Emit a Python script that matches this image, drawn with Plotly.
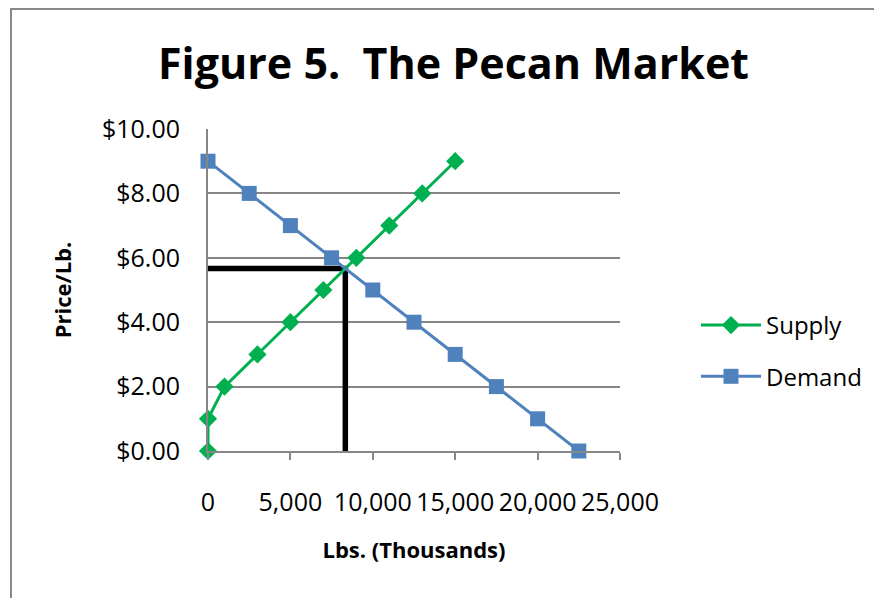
import plotly.graph_objects as go

supply_qty = [0, 0, 1000, 3000, 5000, 7000, 9000, 11000, 13000, 15000]
supply_price = [0, 1, 2, 3, 4, 5, 6, 7, 8, 9]
demand_qty = [0, 2500, 5000, 7500, 10000, 12500, 15000, 17500, 20000, 22500]
demand_price = [9, 8, 7, 6, 5, 4, 3, 2, 1, 0]
eq_qty = 8333
eq_price = 5.67

FONT = "Open Sans"
OFF = 8  # page body margin
W, H = 882 - OFF, 598 - OFF
L, R, T, B = 208 - OFF, 620 - OFF, 129 - OFF, 451 - OFF

fig = go.Figure()
fig.add_trace(go.Scatter(
    x=[0, eq_qty, eq_qty], y=[eq_price, eq_price, 0], mode="lines",
    line=dict(color="black", width=5.5), showlegend=False, hoverinfo="skip"))
fig.add_trace(go.Scatter(
    x=supply_qty, y=supply_price, name="Supply", mode="lines+markers",
    legendgroup="s",
    line=dict(color="#00B050", width=3),
    marker=dict(symbol="diamond", size=14, color="#00B050"), cliponaxis=False))
fig.add_trace(go.Scatter(
    x=demand_qty, y=demand_price, name="Demand", mode="lines+markers",
    legendgroup="d",
    line=dict(color="#4F81BD", width=3),
    marker=dict(symbol="square", size=15, color="#4F81BD"), cliponaxis=False))

pw, ph = R - L, B - T
def px(x): return (x - OFF - L) / pw
def py(y): return (B - (y - OFF)) / ph

fig.update_layout(
    width=W, height=H,
    margin=dict(l=L, r=W - R, t=T, b=H - B),
    paper_bgcolor="white", plot_bgcolor="white",
    font=dict(family=FONT, color="black", size=20),
    xaxis=dict(range=[0, 25000], dtick=5000, tickformat=",d",
               showgrid=False, zeroline=False, showline=True,
               linecolor="#868686", linewidth=2,
               ticks="outside", ticklen=7, tickcolor="#868686", tickwidth=2,
               ticklabelstandoff=21,
               tickfont=dict(size=25, family=FONT),
               title=dict(text="<b>Lbs. (Thousands)</b>", font=dict(size=22, family=FONT), standoff=26)),
    yaxis=dict(range=[0, 10], dtick=2, tickprefix="$", tickformat=".2f",
               showgrid=True, gridcolor="#868686", gridwidth=2,
               zeroline=False, showline=True, linecolor="#868686", linewidth=2,
               ticks="", ticklabelstandoff=21,
               tickfont=dict(size=25, family=FONT),
               title=dict(text="<b>Price/Lb.</b>", font=dict(size=22, family=FONT), standoff=24)),
    legend=dict(x=px(696), y=py(351), xanchor="left", yanchor="middle",
                font=dict(size=24, family=FONT), itemwidth=60, tracegroupgap=17,
                bgcolor="rgba(0,0,0,0)"),
    showlegend=True,
    annotations=[dict(text="<b>Figure 5.  The Pecan Market</b>", xref="paper", yref="paper",
                      x=px(453), y=py(63), xanchor="center", yanchor="middle",
                      showarrow=False, font=dict(size=43, family=FONT))],
    shapes=[dict(type="rect", xref="paper", yref="paper",
                 x0=px(11), x1=px(900), y0=py(620), y1=py(9),
                 line=dict(color="#888888", width=2), layer="below")],
)

fig.write_html("out.html")
